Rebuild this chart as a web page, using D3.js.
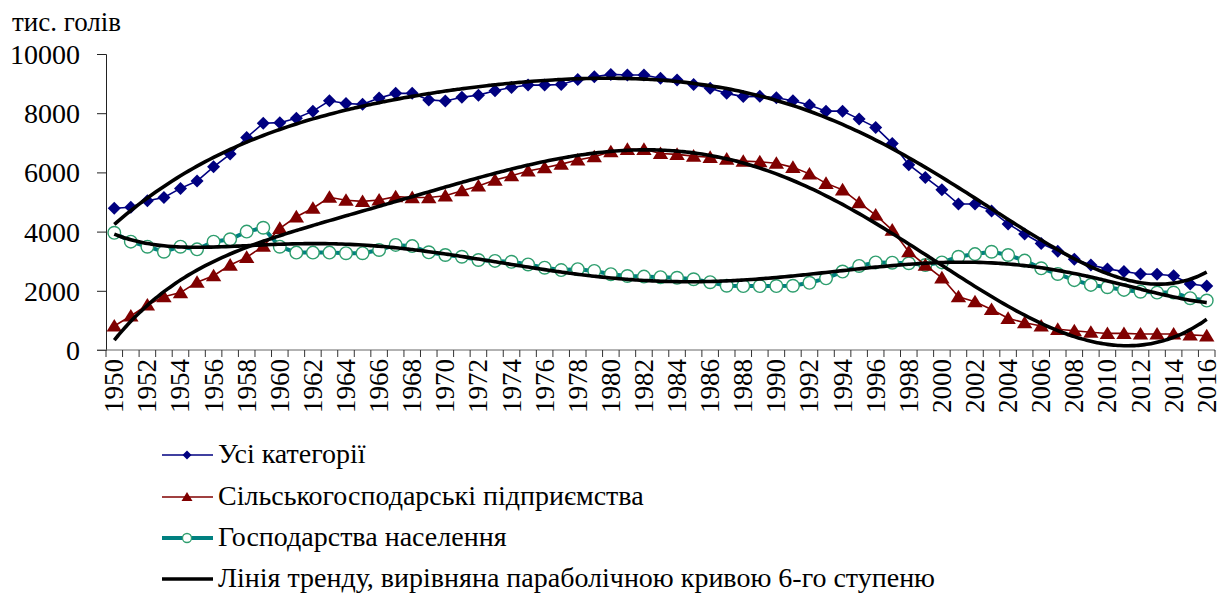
<!DOCTYPE html>
<html>
<head>
<meta charset="utf-8">
<script src="https://cdn.jsdelivr.net/npm/d3@7"></script>
<style>
  text { font-family: "Liberation Serif" !important; }
</style>
</head>
<body style="margin:0">
<div id="chart"></div>
<script>
// years and series (тис. голів)
var years = d3.range(1950, 2017);

var allCategories = [
  4790, 4820, 5040, 5150, 5460, 5710, 6190, 6620, 7180, 7660,
  7680, 7830, 8070, 8420, 8330, 8300, 8510, 8670, 8670, 8450,
  8410, 8540, 8610, 8760, 8870, 8950, 8950, 8970, 9140, 9230,
  9310, 9290, 9290, 9180, 9120, 8970, 8840, 8670, 8560, 8570,
  8520, 8420, 8280, 8070, 8070, 7800, 7520, 6980, 6260, 5830,
  5410, 4930, 4930, 4700, 4260, 3920, 3600, 3340, 3070, 2870,
  2740, 2650, 2570, 2560, 2510, 2230, 2160];

var agriEnterprises = [
  810, 1150, 1520, 1800, 1940, 2290, 2510, 2870, 3130, 3510,
  4110, 4500, 4790, 5160, 5060, 5020, 5070, 5180, 5150, 5150,
  5210, 5380, 5540, 5740, 5890, 6050, 6160, 6280, 6420, 6530,
  6700, 6780, 6780, 6640, 6610, 6550, 6510, 6450, 6380, 6360,
  6310, 6170, 5950, 5630, 5410, 4980, 4560, 4050, 3320, 2870,
  2440, 1800, 1630, 1370, 1070, 920, 810, 700, 650, 600,
  560, 560, 540, 540, 540, 510, 480];

var households = [
  3960, 3660, 3490, 3320, 3490, 3400, 3660, 3740, 4000, 4130,
  3490, 3290, 3290, 3290, 3270, 3270, 3380, 3550, 3510, 3300,
  3210, 3150, 3040, 3010, 2980, 2890, 2780, 2700, 2730, 2670,
  2560, 2500, 2480, 2460, 2440, 2390, 2290, 2170, 2160, 2160,
  2160, 2170, 2270, 2420, 2650, 2840, 2960, 2950, 2930, 2870,
  2960, 3150, 3240, 3320, 3210, 3020, 2760, 2570, 2360, 2200,
  2120, 2030, 1970, 1940, 1940, 1750, 1670];

var seriesNames = ["Усі категорії", "Сільськогосподарські підприємства", "Господарства населення"];
var trendName = "Лінія тренду, вирівняна параболічною кривою 6-го ступеню";
var yTicks = [0, 2000, 4000, 6000, 8000, 10000];
var unitLabel = "тис. голів";

var fontName = "Liberation Serif";

var width = 1226, height = 594;
var margin = {top: 54, left: 106, right: 11, bottom: 244};

var svg = d3.select("#chart").append("svg")
  .attr("width", width)
  .attr("height", height)
  .attr("font-family", fontName)
  .style("font-family", fontName);

// set the font three ways so any renderer picks it up
function serifText(sel, size) {
  return sel
    .attr("font-family", fontName)
    .attr("font-size", size)
    .style("font-family", fontName)
    .style("font-size", size + "px");
}

var x = d3.scaleBand()
  .domain(years)
  .range([margin.left, width - margin.right])
  .padding(0);

var y = d3.scaleLinear()
  .domain([0, 10000])
  .range([height - margin.bottom, margin.top]);

// continuous x for trend curves
var xc = d3.scaleLinear()
  .domain([1950, 2016])
  .range([x(1950) + x.bandwidth() / 2, x(2016) + x.bandwidth() / 2]);

// y axis
var yAxis = svg.append("g")
  .attr("transform", "translate(" + margin.left + ",0)")
  .call(d3.axisLeft(y).tickValues(yTicks).tickSize(9).tickPadding(17).tickFormat(d3.format("d")));
yAxis.attr("font-family", fontName).attr("font-size", 28);
serifText(yAxis.selectAll("text"), 28)
  .attr("fill", "#000")
  .attr("dy", "0.34em");
yAxis.select(".domain").attr("stroke", "#222");
yAxis.selectAll(".tick line").attr("stroke", "#222");

// x axis: tick at every band boundary, label every second year
var xAxis = svg.append("g")
  .attr("transform", "translate(0," + y(0) + ")");
xAxis.append("line")
  .attr("x1", margin.left - 9).attr("x2", width - margin.right)
  .attr("stroke", "#666");
xAxis.selectAll(".tk")
  .data(years.concat([2017]))
  .enter().append("line")
  .attr("class", "tk")
  .attr("x1", function(d) { return d === 2017 ? x.range()[1] : x(d); })
  .attr("x2", function(d) { return d === 2017 ? x.range()[1] : x(d); })
  .attr("y1", 0).attr("y2", 7)
  .attr("stroke", "#333");
serifText(xAxis.selectAll(".yl")
  .data(years.filter(function(d) { return d % 2 === 0; }))
  .enter().append("text")
  .attr("class", "yl")
  .attr("text-anchor", "end"), 27)
  .attr("transform", function(d) {
    return "translate(" + (x(d) + x.bandwidth() / 2 + 9) + ",9) rotate(-90)";
  })
  .text(function(d) { return d; });

// unit label
serifText(svg.append("text")
  .attr("x", 12)
  .attr("y", 31), 27)
  .text(unitLabel);

// helpers for markers
function diamond(r) {
  return "M0," + (-r) + "L" + r + ",0L0," + r + "L" + (-r) + ",0Z";
}
function triangle(r) {
  return "M0," + (-r) + "L" + (r * 1.1) + "," + (r * 0.8) + "L" + (-r * 1.1) + "," + (r * 0.8) + "Z";
}

// polynomial least squares fit, degree 6
function polyFit(xs, ys, deg) {
  var n = deg + 1;
  var m = [];
  for (var i = 0; i < n; i++) {
    m.push(new Array(n + 1).fill(0));
  }
  xs.forEach(function(xv, k) {
    for (var i = 0; i < n; i++) {
      for (var j = 0; j < n; j++) m[i][j] += Math.pow(xv, i + j);
      m[i][n] += Math.pow(xv, i) * ys[k];
    }
  });
  // gaussian elimination
  for (var c = 0; c < n; c++) {
    var p = c;
    for (var r = c + 1; r < n; r++) if (Math.abs(m[r][c]) > Math.abs(m[p][c])) p = r;
    var tmp = m[c]; m[c] = m[p]; m[p] = tmp;
    for (var r2 = c + 1; r2 < n; r2++) {
      var f = m[r2][c] / m[c][c];
      for (var k2 = c; k2 <= n; k2++) m[r2][k2] -= f * m[c][k2];
    }
  }
  var coef = new Array(n).fill(0);
  for (var i2 = n - 1; i2 >= 0; i2--) {
    var s = m[i2][n];
    for (var j2 = i2 + 1; j2 < n; j2++) s -= m[i2][j2] * coef[j2];
    coef[i2] = s / m[i2][i2];
  }
  return coef;
}

function norm(yr) { return (yr - 1983) / 33; }

function trendPoints(vals) {
  var coef = polyFit(years.map(norm), vals, 6);
  return d3.range(1950, 2016.001, 0.25).map(function(yr) {
    var u = norm(yr), v = 0;
    for (var i = 0; i < coef.length; i++) v += coef[i] * Math.pow(u, i);
    return [yr, v];
  });
}

var lineGen = d3.line()
  .x(function(d, i) { return x(years[i]) + x.bandwidth() / 2; })
  .y(function(d) { return y(d); });

var trendGen = d3.line()
  .x(function(d) { return xc(d[0]); })
  .y(function(d) { return y(d[1]); })
  .curve(d3.curveBasis);

var plot = svg.append("g");

// households (teal, open circles)
plot.append("path")
  .datum(households)
  .attr("fill", "none")
  .attr("stroke", "#008080")
  .attr("stroke-width", 4)
  .attr("d", lineGen);
plot.selectAll(".hh")
  .data(households)
  .enter().append("circle")
  .attr("class", "hh")
  .attr("cx", function(d, i) { return x(years[i]) + x.bandwidth() / 2; })
  .attr("cy", function(d) { return y(d); })
  .attr("r", 6.3)
  .attr("fill", "#fff")
  .attr("stroke", "#2e9e6e")
  .attr("stroke-width", 1.4);

// agricultural enterprises (dark red triangles)
plot.append("path")
  .datum(agriEnterprises)
  .attr("fill", "none")
  .attr("stroke", "#800000")
  .attr("stroke-width", 1.6)
  .attr("d", lineGen);
plot.selectAll(".ag")
  .data(agriEnterprises)
  .enter().append("path")
  .attr("class", "ag")
  .attr("transform", function(d, i) { return "translate(" + (x(years[i]) + x.bandwidth() / 2) + "," + y(d) + ")"; })
  .attr("d", triangle(7))
  .attr("fill", "#800000");

// all categories (navy diamonds)
plot.append("path")
  .datum(allCategories)
  .attr("fill", "none")
  .attr("stroke", "#000080")
  .attr("stroke-width", 1.6)
  .attr("d", lineGen);
plot.selectAll(".al")
  .data(allCategories)
  .enter().append("path")
  .attr("class", "al")
  .attr("transform", function(d, i) { return "translate(" + (x(years[i]) + x.bandwidth() / 2) + "," + y(d) + ")"; })
  .attr("d", diamond(6.5))
  .attr("fill", "#000080");

// trend lines
[allCategories, agriEnterprises, households].forEach(function(vals) {
  plot.append("path")
    .datum(trendPoints(vals))
    .attr("fill", "none")
    .attr("stroke", "#000")
    .attr("stroke-width", 3.6)
    .attr("d", trendGen);
});

// legend
var legendY = [455, 497, 538, 579];
var legend = svg.append("g");
var lx1 = 162, lx2 = 213, lm = 187;

legend.append("line").attr("x1", lx1).attr("x2", lx2).attr("y1", legendY[0]).attr("y2", legendY[0])
  .attr("stroke", "#000080").attr("stroke-width", 1.6);
legend.append("path").attr("transform", "translate(" + lm + "," + legendY[0] + ")")
  .attr("d", diamond(4.5)).attr("fill", "#000080");

legend.append("line").attr("x1", lx1).attr("x2", lx2).attr("y1", legendY[1]).attr("y2", legendY[1])
  .attr("stroke", "#800000").attr("stroke-width", 1.6);
legend.append("path").attr("transform", "translate(" + lm + "," + legendY[1] + ")")
  .attr("d", triangle(5)).attr("fill", "#800000");

legend.append("line").attr("x1", lx1).attr("x2", lx2).attr("y1", legendY[2]).attr("y2", legendY[2])
  .attr("stroke", "#008080").attr("stroke-width", 4);
legend.append("circle").attr("cx", lm).attr("cy", legendY[2]).attr("r", 4.5)
  .attr("fill", "#fff").attr("stroke", "#2e9e6e").attr("stroke-width", 1.3);

legend.append("line").attr("x1", lx1).attr("x2", lx2).attr("y1", legendY[3]).attr("y2", legendY[3])
  .attr("stroke", "#000").attr("stroke-width", 3.6);

serifText(legend.selectAll(".lt")
  .data(seriesNames.concat([trendName]))
  .enter().append("text")
  .attr("class", "lt")
  .attr("x", 218)
  .attr("y", function(d, i) { return legendY[i] + 8; }), 28)
  .text(function(d) { return d; });
</script>
</body>
</html>
